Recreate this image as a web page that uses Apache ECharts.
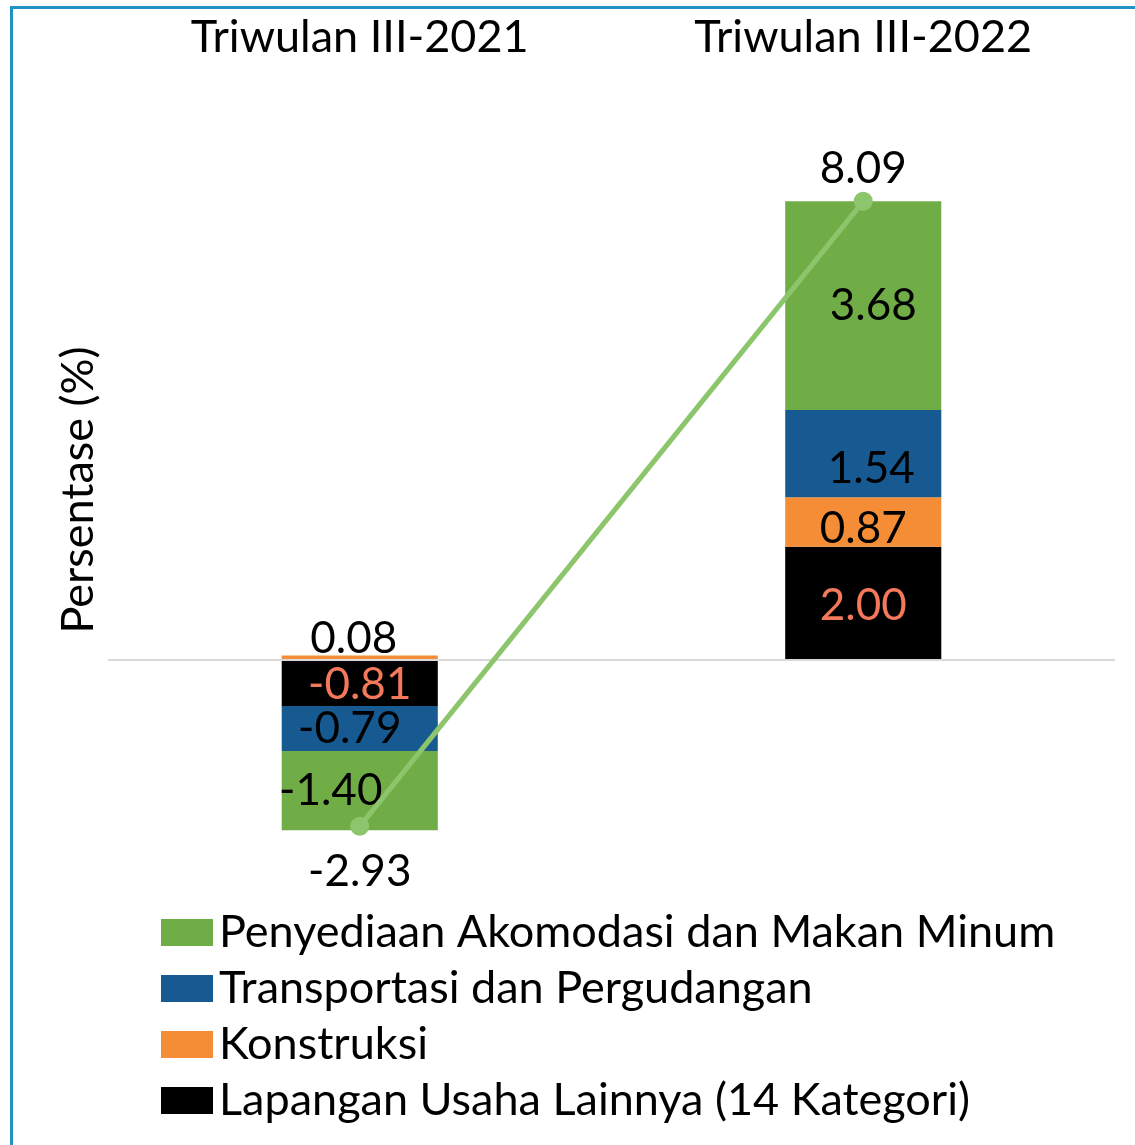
<!DOCTYPE html>
<html>
<head>
<meta charset="utf-8">
<script src="https://cdn.jsdelivr.net/npm/echarts@6/dist/echarts.min.js"></script>
<style>
  html, body { margin: 0; padding: 0; background: #fff; }
  #frame { position: absolute; left: 10px; top: 6px; width: 1140px; height: 1150px; border-left: 3px solid #1f94c4; border-top: 3px solid #1f94c4; box-sizing: border-box; }
  #chart { position: absolute; left: 0; top: 0; width: 1135px; height: 1145px; }
</style>
</head>
<body>
<div id="frame"></div>
<div id="chart"></div>
<script>
const categories = ['Triwulan III-2021', 'Triwulan III-2022']
const seriesNames = [
  'Penyediaan Akomodasi dan Makan Minum',
  'Transportasi dan Pergudangan',
  'Konstruksi',
  'Lapangan Usaha Lainnya (14 Kategori)'
]
const lainnya = [-0.81, 2.00]
const konstruksi = [0.08, 0.87]
const transportasi = [-0.79, 1.54]
const akomodasi = [-1.40, 3.68]
const total = [-2.93, 8.09]

const FONT = 'Lato, "Noto Sans", sans-serif'
const CORAL = '#f4795b'
const BIG = 45
const LBL = 44

const chart = echarts.init(document.getElementById('chart'))

const barBase = {
  type: 'bar',
  stack: 'total',
  barWidth: '31%',
  label: {
    show: true,
    fontFamily: FONT,
    fontSize: LBL,
    color: '#000',
    formatter: (p) => p.value.toFixed(2)
  }
}

const option = {
  backgroundColor: 'transparent',
  animation: false,
  textStyle: { fontFamily: FONT },
  legend: {
    orient: 'vertical',
    left: 156,
    top: 905,
    itemWidth: 52,
    itemHeight: 27,
    itemGap: 11,
    icon: 'rect',
    data: seriesNames,
    textStyle: { fontFamily: FONT, fontSize: BIG, color: '#000', lineHeight: 45, padding: [0, 0, 0, 1] }
  },
  grid: { left: 108, right: 20, top: 93, bottom: 258 },
  xAxis: {
    type: 'category',
    position: 'top',
    data: categories,
    axisLine: { show: false, onZero: false },
    axisTick: { show: false },
    axisLabel: { color: '#000', fontFamily: FONT, fontSize: BIG, margin: 33 }
  },
  yAxis: {
    type: 'value',
    min: -4,
    max: 10,
    axisLabel: { show: false },
    axisLine: { show: false },
    axisTick: { show: false },
    splitLine: { show: false },
    name: 'Persentase (%)',
    nameLocation: 'middle',
    nameRotate: 90,
    nameGap: 7,
    nameTextStyle: { color: '#000', fontFamily: FONT, fontSize: BIG }
  },
  series: [
    {
      ...barBase,
      name: seriesNames[3],
      itemStyle: { color: '#000000' },
      data: lainnya,
      label: { ...barBase.label, color: CORAL, offset: [0, 2] },
      markLine: {
        silent: true,
        symbol: 'none',
        label: { show: false },
        lineStyle: { color: '#d9d9d9', width: 2, type: 'solid' },
        data: [{ yAxis: 0 }]
      }
    },
    {
      ...barBase,
      name: seriesNames[2],
      itemStyle: { color: '#f58d36' },
      data: konstruksi.map((v, i) => i === 0
        ? { value: v, label: { position: 'top', offset: [-6, 10] } }
        : { value: v, label: { offset: [0, 7] } })
    },
    {
      ...barBase,
      name: seriesNames[1],
      itemStyle: { color: '#165a91' },
      data: transportasi.map((v, i) => ({ value: v, label: { offset: i === 0 ? [-10, 0] : [8, 15] } }))
    },
    {
      ...barBase,
      name: seriesNames[0],
      itemStyle: { color: '#70ad47' },
      data: akomodasi.map((v, i) => ({ value: v, label: { offset: i === 0 ? [-29, 0] : [10, 0] } }))
    },
    {
      type: 'line',
      name: 'Total',
      z: 10,
      symbol: 'circle',
      symbolSize: 19,
      lineStyle: { color: '#8cc56b', width: 5 },
      itemStyle: { color: '#8cc56b' },
      label: {
        show: true,
        fontFamily: FONT,
        fontSize: LBL,
        color: '#000',
        formatter: (p) => p.value.toFixed(2)
      },
      data: total.map((v, i) => ({
        value: v,
        label: i === 0 ? { position: 'bottom', distance: 14 } : { position: 'top', distance: 8, offset: [0, 7] }
      }))
    }
  ]
}

chart.setOption(option)
</script>
</body>
</html>
